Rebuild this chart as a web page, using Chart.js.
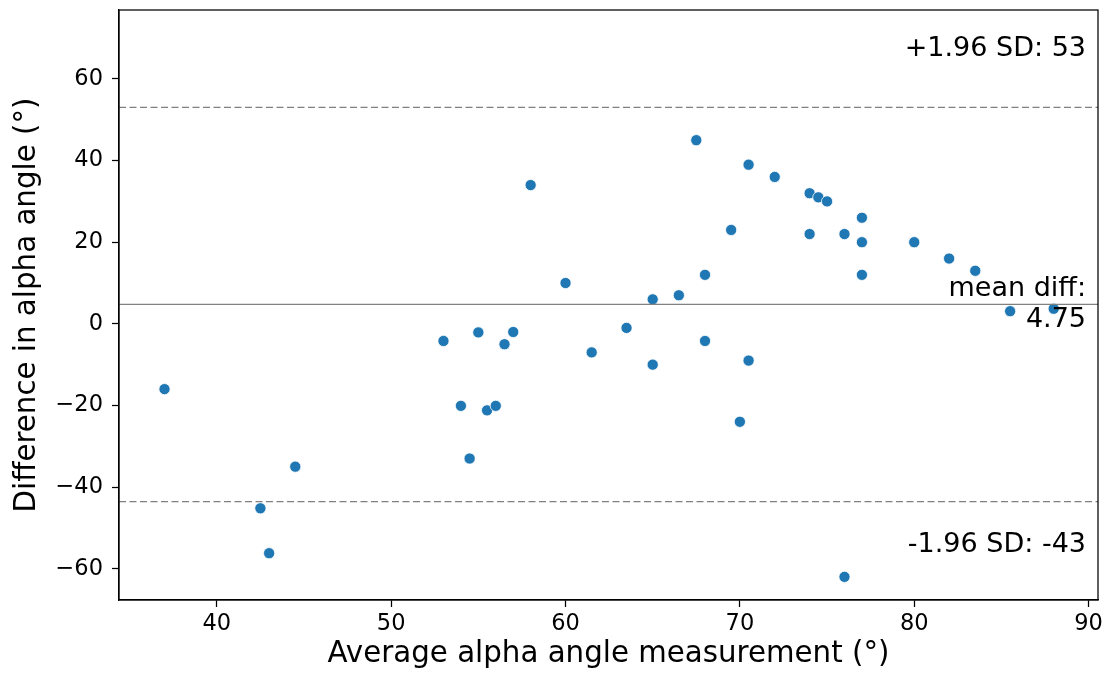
<!DOCTYPE html>
<html>
<head>
<meta charset="utf-8">
<script src="https://cdn.jsdelivr.net/npm/chart.js@4.4.1/dist/chart.umd.min.js"></script>
<style>
	html, body { margin: 0; padding: 0; background: #fff; }
	#wrap { width: 1105px; height: 677px; }
</style>
</head>
<body>
<div id="wrap"><canvas id="baChart" width="1105" height="677"></canvas></div>
<script>
// ===== DATA =====
const avgAngle = [37, 53, 55, 56.5, 54, 55.5, 56, 54.5, 44.5, 42.5, 43,
	58, 67.5, 70.5, 72, 74, 74.5, 75, 77, 69.5, 74, 76, 77, 80, 82, 83.5, 77,
	60, 68, 65, 66.5, 85.5, 88,
	57, 61.5, 63.5, 65, 68, 70.5, 70, 76];
const diffAngle = [-16, -4.2, -2.1, -5, -20.1, -21.2, -20.1, -33, -35, -45.2, -56.2,
	34, 45, 39, 36, 32, 31, 30, 26, 23, 22, 22, 20, 20, 16, 13, 12,
	10, 12, 6, 7, 3.1, 3.7,
	-2, -7, -1, -10, -4.2, -9, -24, -62];

const meanDiff = 4.75;
const upperLoA = 53.06;
const lowerLoA = -43.56;

const xRange = [34.39, 90.54];
const yRange = [-67.67, 76.9];
const xTicks = [40, 50, 60, 70, 80, 90];
const yTicks = [-60, -40, -20, 0, 20, 40, 60];

const xTitle = 'Average alpha angle measurement (°)';
const yTitle = 'Difference in alpha angle (°)';
const upperText = '+1.96 SD: 53';
const meanText = ['mean diff:', '4.75'];
const lowerText = '-1.96 SD: -43';

// ===== HELPERS =====
const FONT = "'DejaVu Sans', sans-serif";
const fmt = v => (v < 0 ? '\u2212' + Math.abs(v) : String(v));
const hline = y => xRange.map(x => ({ x: x, y: y }));

// frame + text labels
const framePlugin = {
	id: 'frame',
	afterDraw(chart) {
		const ctx = chart.ctx;
		const a = chart.chartArea;
		const ys = chart.scales.y;
		ctx.save();
		ctx.strokeStyle = '#000';
		ctx.lineWidth = 1.25;
		ctx.strokeRect(a.left, a.top, a.right - a.left, a.bottom - a.top);

		ctx.fillStyle = '#000';
		ctx.font = '27px ' + FONT;
		ctx.textAlign = 'right';
		ctx.textBaseline = 'alphabetic';
		const tx = a.right - 12;
		const h = a.bottom - a.top;
		ctx.fillText(upperText, tx, a.bottom - h * 0.922);
		ctx.fillText(lowerText, tx, a.bottom - h * 0.081);
		const my = ys.getPixelForValue(meanDiff);
		ctx.fillText(meanText[0], tx, my - 8);
		ctx.fillText(meanText[1], tx, my + 23);
		ctx.restore();
	}
};

const ctx = document.getElementById('baChart').getContext('2d');

new Chart(ctx, {
	type: 'scatter',
	data: {
		datasets: [
			{
				label: 'upper',
				type: 'line',
				data: hline(upperLoA),
				borderColor: '#808080',
				borderWidth: 1.3,
				borderDash: [7, 3.5],
				pointRadius: 0,
				order: 0
			},
			{
				label: 'mean',
				type: 'line',
				data: hline(meanDiff),
				borderColor: '#808080',
				borderWidth: 1.3,
				pointRadius: 0,
				order: 0
			},
			{
				label: 'lower',
				type: 'line',
				data: hline(lowerLoA),
				borderColor: '#808080',
				borderWidth: 1.3,
				borderDash: [7, 3.5],
				pointRadius: 0,
				order: 0
			},
			{
				label: 'diff',
				data: avgAngle.map((x, i) => ({ x: x, y: diffAngle[i] })),
				backgroundColor: '#1f77b4',
				borderColor: '#ffffff',
				borderWidth: 0.8,
				pointRadius: 5.6,
				order: 1
			}
		]
	},
	options: {
		responsive: false,
		animation: false,
		layout: { padding: { top: 10, right: 7, left: 0, bottom: 0 } },
		plugins: {
			legend: { display: false },
			tooltip: { enabled: false }
		},
		scales: {
			x: {
				type: 'linear',
				min: xRange[0],
				max: xRange[1],
				afterBuildTicks: s => { s.ticks = xTicks.map(v => ({ value: v })); },
				afterFit: s => { s.height = 77; s.paddingLeft = 0; s.paddingRight = 0; },
				grid: { drawOnChartArea: false, tickLength: 7, color: '#000', tickWidth: 1.25 },
				border: { display: true, color: '#000', width: 1.25 },
				ticks: {
					color: '#000',
					padding: 4,
					maxRotation: 0,
					font: { family: FONT, size: 22.5 },
					callback: v => fmt(v)
				},
				title: {
					display: true,
					text: xTitle,
					color: '#000',
					font: { family: FONT, size: 29.3 },
					padding: { top: 0, bottom: 5 }
				}
			},
			y: {
				type: 'linear',
				min: yRange[0],
				max: yRange[1],
				afterBuildTicks: s => { s.ticks = yTicks.map(v => ({ value: v })); },
				afterFit: s => { s.width = 119; s.paddingTop = 0; s.paddingBottom = 0; },
				grid: { drawOnChartArea: false, tickLength: 7, color: '#000', tickWidth: 1.25 },
				border: { display: true, color: '#000', width: 1.25 },
				ticks: {
					color: '#000',
					padding: 9,
					font: { family: FONT, size: 22.5 },
					callback: v => fmt(v)
				},
				title: {
					display: true,
					text: yTitle,
					color: '#000',
					font: { family: FONT, size: 29.3 },
					padding: { top: 10, bottom: 0 }
				}
			}
		}
	},
	plugins: [framePlugin]
});
</script>
</body>
</html>
